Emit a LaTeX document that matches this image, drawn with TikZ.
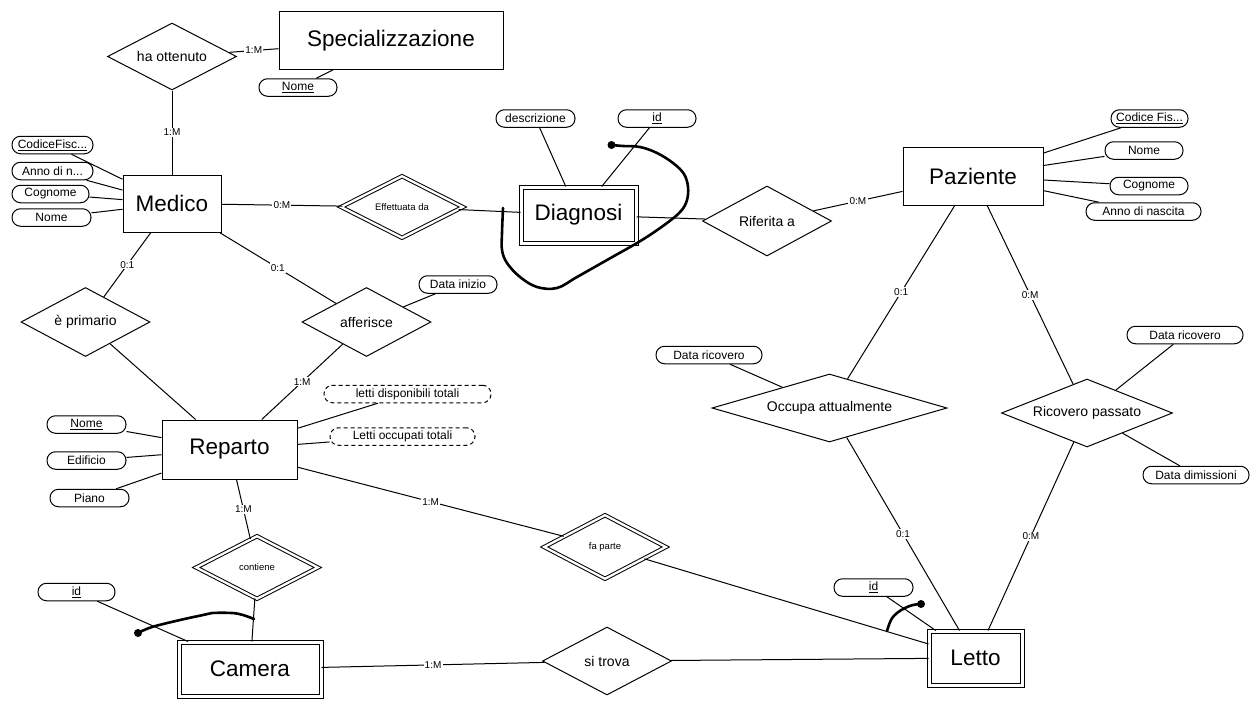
\documentclass[tikz,border=0pt]{standalone}
\usepackage{fontspec}
\setmainfont{Liberation Sans}
\usetikzlibrary{shapes.geometric}
\begin{document}
\begin{tikzpicture}[x=1pt,y=-1pt,
  ent/.style={draw, line width=1pt, inner sep=0pt, font=\fontsize{22.5}{24}\selectfont},
  went/.style={ent, double, double distance=3pt},
  rel/.style={diamond, aspect=1.9, draw, line width=1pt, inner sep=0pt, font=\fontsize{14}{16}\selectfont},
  wrel/.style={rel, double, double distance=2.3pt, font=\fontsize{9.5}{11}\selectfont},
  attr/.style={draw, rounded corners=8.5pt, minimum height=17.5pt, inner sep=0pt, line width=1pt, font=\fontsize{12}{14}\selectfont},
  dattr/.style={attr, dash pattern=on 4pt off 3pt},
  card/.style={fill=white, inner sep=1.2pt, font=\fontsize{10}{12}\selectfont},
  conn/.style={line width=1pt},
  hand/.style={line width=2.6pt, line cap=round, line join=round}
]
\useasboundingbox (0,0) rectangle (1260,709);
\fill[white] (0,0) rectangle (1260,709);

% entities
\node[ent, minimum width=224pt, minimum height=57pt] (spec) at (391,40.5) {Specializzazione};
\node[ent, minimum width=98pt, minimum height=57pt] (medico) at (172,203.5) {Medico};
\node[went, minimum width=115pt, minimum height=56pt] (diag) at (578.5,215) {Diagnosi};
\node[ent, minimum width=140pt, minimum height=58pt] (paz) at (973,176) {Paziente};
\node[ent, minimum width=135pt, minimum height=59pt] (rep) at (229.5,449.5) {Reparto};
\node[went, minimum width=142pt, minimum height=54pt] (cam) at (250,669) {Camera};
\node[went, minimum width=93pt, minimum height=54pt] (letto) at (975.5,658) {Letto};

% relationships
\node[rel, minimum width=129pt, minimum height=67pt] (ott) at (172,56.5) {ha ottenuto};
\node[wrel, minimum width=122pt, minimum height=62pt] (eff) at (402,207) {Effettuata da};
\node[rel, minimum width=129pt, minimum height=70pt] (rif) at (767,221) {Riferita a};
\node[rel, minimum width=129pt, minimum height=69pt] (prim) at (85.5,322) {è primario};
\node[rel, minimum width=129pt, minimum height=69pt] (aff) at (366.5,322) {afferisce};
\node[wrel, minimum width=122pt, minimum height=64pt] (fap) at (605,547) {fa parte};
\node[wrel, minimum width=122pt, minimum height=63pt] (cont) at (257,567.5) {contiene};
\node[rel, minimum width=129pt, minimum height=68pt] (trova) at (607,661) {si trova};
\node[rel, aspect=3.46, minimum width=235pt, minimum height=68pt] (occ) at (829.5,408) {Occupa attualmente};
\node[rel, aspect=2.5, minimum width=171pt, minimum height=68pt] (ric) at (1087,413) {Ricovero passato};

% attributes
\node[attr, minimum width=78pt] (specnome) at (298,87.5) {\underline{Nome}};
\node[attr, minimum width=81pt] (mcf) at (52.5,145) {\underline{CodiceFisc...}};
\node[attr, minimum width=81pt] (manno) at (52.5,171) {Anno di n...};
\node[attr, minimum width=77pt] (mcog) at (50.5,194) {Cognome};
\node[attr, minimum width=79pt] (mnome) at (51.5,217.5) {Nome};
\node[attr, minimum width=79pt] (ddesc) at (535.5,118.5) {descrizione};
\node[attr, minimum width=78pt] (did) at (657,118.5) {\underline{id}};
\node[attr, minimum width=77pt] (pcf) at (1149.5,118.5) {\underline{Codice Fis...}};
\node[attr, minimum width=78pt] (pnome) at (1144,150.5) {Nome};
\node[attr, minimum width=78pt] (pcog) at (1149,186) {Cognome};
\node[attr, minimum width=115pt] (panno) at (1143.5,211.5) {Anno di nascita};
\node[attr, minimum width=78pt] (dinizio) at (458,284.5) {Data inizio};
\node[attr, minimum width=79pt] (rnome) at (86.5,424.5) {\underline{Nome}};
\node[attr, minimum width=79pt] (redif) at (86.5,460.5) {Edificio};
\node[attr, minimum width=79pt] (rpiano) at (89.5,498) {Piano};
\node[dattr, minimum width=167pt] (rdisp) at (407.5,394) {letti disponibili totali};
\node[dattr, minimum width=145pt] (rocc) at (402.5,436.5) {Letti occupati totali};
\node[attr, minimum width=77pt] (camid) at (76.5,592) {\underline{id}};
\node[attr, minimum width=79pt] (lid) at (873.5,587.5) {\underline{id}};
\node[attr, minimum width=106pt] (occdata) at (709,355) {Data ricovero};
\node[attr, minimum width=116pt] (ricdata) at (1185,335) {Data ricovero};
\node[attr, minimum width=106pt] (ricdim) at (1196,475) {Data dimissioni};

% connectors
\draw[conn] (ott) -- node[card] {1:M} (spec);
\draw[conn] (ott) -- node[card] {1:M} (medico);
\draw[conn] (spec) -- (specnome);
\draw[conn] (medico) -- (mcf);
\draw[conn] (medico) -- (manno);
\draw[conn] (medico) -- (mcog);
\draw[conn] (medico) -- (mnome);
\draw[conn] (medico) -- node[card] {0:M} (eff);
\draw[conn] (eff) -- (diag);
\draw[conn] (diag) -- (ddesc);
\draw[conn] (diag) -- (did);
\draw[conn] (diag) -- (rif);
\draw[conn] (rif) -- node[card] {0:M} (paz);
\draw[conn] (paz) -- (pcf);
\draw[conn] (paz) -- (pnome);
\draw[conn] (paz) -- (pcog);
\draw[conn] (paz) -- (panno);
\draw[conn] (medico) -- node[card] {0:1} (prim);
\draw[conn] (medico) -- node[card] {0:1} (aff);
\draw[conn] (prim) -- (rep);
\draw[conn] (aff) -- node[card] {1:M} (rep);
\draw[conn] (aff) -- (dinizio);
\draw[conn] (rep) -- (rnome);
\draw[conn] (rep) -- (redif);
\draw[conn] (rep) -- (rpiano);
\draw[conn] (rep) -- (rdisp);
\draw[conn] (rep) -- (rocc);
\draw[conn] (rep) -- node[card] {1:M} (fap);
\draw[conn] (fap) -- (letto);
\draw[conn] (rep) -- node[card] {1:M} (cont);
\draw[conn] (cont) -- (cam);
\draw[conn] (cam) -- (camid);
\draw[conn] (cam) -- node[card] {1:M} (trova);
\draw[conn] (trova) -- (letto);
\draw[conn] (letto) -- (lid);
\draw[conn] (paz) -- node[card] {0:1} (occ);
\draw[conn] (paz) -- node[card] {0:M} (ric);
\draw[conn] (occ) -- node[card] {0:1} (letto);
\draw[conn] (ric) -- node[card] {0:M} (letto);
\draw[conn] (occ) -- (occdata);
\draw[conn] (ric) -- (ricdata);
\draw[conn] (ric) -- (ricdim);

% hand-drawn identifier marks
\coordinate (dd1) at (611.5,145);
\draw[hand] plot[smooth, tension=0.6] coordinates {(dd1) (623,146) (640,147) (657,153) (673,163) (684,174) (688,187) (687,200) (681,211) (667,223) (642,240) (607,260) (577,277) (557,288) (537,287) (520,277) (507,263) (502,250) (502,233) (503,208)};
\fill (dd1) circle (4pt);

\coordinate (cd1) at (138,633);
\draw[hand] plot[smooth, tension=0.6] coordinates {(cd1) (152,627) (180,620) (203,615) (212,613) (232,613) (243,615) (254,619)};
\fill (cd1) circle (4pt);

\coordinate (ld1) at (921,604);
\draw[hand] plot[smooth, tension=0.7] coordinates {(887,631) (891,620) (897,613) (905,608) (913,605) (ld1)};
\fill (ld1) circle (4pt);
\end{tikzpicture}
\end{document}
